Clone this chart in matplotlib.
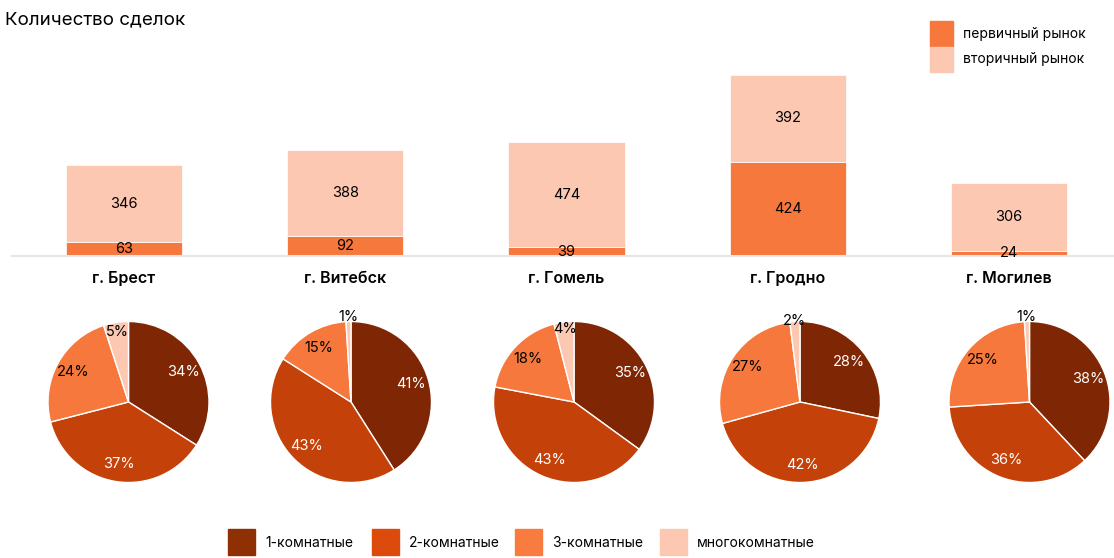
import matplotlib

matplotlib.use("Agg")
import matplotlib.pyplot as plt
from matplotlib.patches import Rectangle
import numpy as np

W, H = 1114, 558

cities = ["г. Брест", "г. Витебск", "г. Гомель", "г. Гродно", "г. Могилев"]
primary = [63, 92, 39, 424, 24]
secondary = [346, 388, 474, 392, 306]
market_labels = ["первичный рынок", "вторичный рынок"]

room_labels = ["1-комнатные", "2-комнатные", "3-комнатные", "многокомнатные"]
room_shares = [
    [34, 37, 24, 5],
    [41, 43, 15, 1],
    [35, 43, 18, 4],
    [28, 42, 27, 2],
    [38, 36, 25, 1],
]

PRIMARY_COLOR = "#f6783d"
SECONDARY_COLOR = "#fcc8b2"
PIE_COLORS = ["#7f2704", "#c5410a", "#f6783d", "#fcc8b2"]
LEGEND_COLORS = ["#8f2f04", "#dc4a0c", "#f87b3f", "#fdc8b1"]
TEXT_COLORS = ["white", "white", "black", "black"]

plt.rcParams["font.family"] = ["Inter", "DejaVu Sans"]


def px_box(left, top, width, height):
    """Convert a pixel box (from top-left) into figure fractions."""
    return [left / W, 1 - (top + height) / H, width / W, height / H]


fig = plt.figure(figsize=(W / 100, H / 100), dpi=100)
fig.patch.set_facecolor("white")

# stacked bars
bar_ax = fig.add_axes(px_box(12, 20, W - 12, 236))
x = np.arange(len(cities))
bar_ax.bar(x, primary, width=0.525, color=PRIMARY_COLOR, edgecolor="white", linewidth=0.5)
bar_ax.bar(x, secondary, width=0.525, bottom=primary, color=SECONDARY_COLOR,
           edgecolor="white", linewidth=0.5)
for xi, p, s in zip(x, primary, secondary):
    bar_ax.text(xi, p / 2, str(p), ha="center", va="center", fontsize=10.5, color="black")
    bar_ax.text(xi, p + s / 2, str(s), ha="center", va="center", fontsize=10.5, color="black")
bar_ax.set_xlim(-0.506, 4.475)
bar_ax.set_ylim(0, 1064)
for side in ["top", "right", "left"]:
    bar_ax.spines[side].set_visible(False)
bar_ax.spines["bottom"].set_color("#e6e6e6")
bar_ax.spines["bottom"].set_linewidth(1.5)
bar_ax.set_yticks([])
bar_ax.set_xticks(x)
bar_ax.set_xticklabels(cities, fontsize=11.5, fontweight="semibold")
bar_ax.tick_params(axis="x", length=0, pad=11)

fig.text(5 / W, 1 - 20 / H, "Количество сделок", fontsize=13.5, ha="left", va="center")

# market legend
for i, (label, color) in enumerate(zip(market_labels, [PRIMARY_COLOR, SECONDARY_COLOR])):
    top = 21 + i * 25.5
    fig.patches.append(Rectangle((930 / W, 1 - (top + 25.5) / H), 23 / W, 25.5 / H,
                                 transform=fig.transFigure, color=color))
    fig.text(963 / W, 1 - (top + 13) / H, label, fontsize=10, ha="left", va="center")

# pies
pie_centers = [128.5, 351, 574, 800, 1029.5]
radius_px = 80.5
for cx, shares in zip(pie_centers, room_shares):
    ax = fig.add_axes(px_box(cx - radius_px, 402 - radius_px, 2 * radius_px, 2 * radius_px))
    wedges, _ = ax.pie(shares, colors=PIE_COLORS, startangle=90, counterclock=False,
                       wedgeprops=dict(edgecolor="white", linewidth=1))
    total = sum(shares)
    angle = 90.0
    for share, tcolor in zip(shares, TEXT_COLORS):
        span = share / total * 360
        mid = np.deg2rad(angle - span / 2)
        angle -= span
        r = 0.78 if share >= 10 else 1.1 - 0.045 * share
        ax.text(r * np.cos(mid), r * np.sin(mid), f"{share}%", ha="center", va="center",
                fontsize=10.5, color=tcolor)
    ax.set_xlim(-1, 1)
    ax.set_ylim(-1, 1)

# room legend
legend_x = [228, 372, 515, 660]
for lx, label, color in zip(legend_x, room_labels, LEGEND_COLORS):
    fig.patches.append(Rectangle((lx / W, 1 - 555 / H), 27 / W, 26 / H,
                                 transform=fig.transFigure, color=color))
    fig.text((lx + 37) / W, 1 - 543 / H, label, fontsize=10, ha="left", va="center")

fig.savefig("out.png", dpi=100)
